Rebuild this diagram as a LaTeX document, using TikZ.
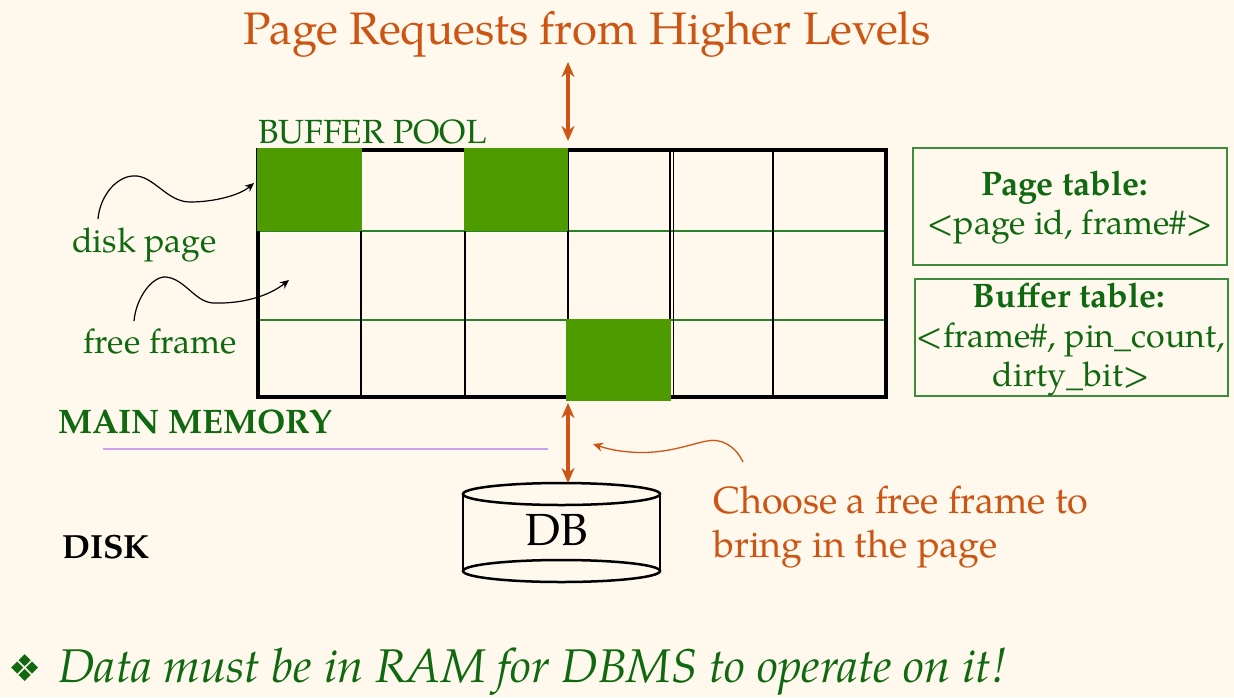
\documentclass[tikz,border=0pt]{standalone}
\usepackage{fontspec}
\setmainfont{TeX Gyre Pagella}
\newfontfamily\symfont{DejaVu Sans}
\usetikzlibrary{arrows.meta}
\definecolor{bg}{RGB}{254,248,237}
\definecolor{orng}{RGB}{204,85,20}
\definecolor{dgreen}{RGB}{16,105,16}
\definecolor{fillgreen}{RGB}{78,155,0}
\definecolor{linegreen}{RGB}{40,130,40}
\definecolor{boxgreen}{RGB}{60,140,60}
\definecolor{purp}{RGB}{205,160,240}
\tikzset{
  bigarrow/.style={draw=orng, line width=3.5pt, {Stealth[length=15pt,width=13pt]}-{Stealth[length=15pt,width=13pt]}},
  curvyblack/.style={draw=black, line width=1.2pt, -{Stealth[length=9pt,width=8pt]}},
  curvyorange/.style={draw=orng, line width=1.3pt, -{Stealth[length=10pt,width=9pt]}},
  greenlabel/.style={text=dgreen, font=\fontsize{34}{40}\selectfont, anchor=base west, inner sep=0},
  tablebox/.style={draw=boxgreen, line width=1.5pt, inner sep=0},
  tabletext/.style={text=dgreen, anchor=base, inner sep=0, font=\fontsize{34}{40}\selectfont},
  cell/.style={fill=fillgreen, draw=none},
}
\begin{document}
\begin{tikzpicture}[x=1pt,y=-1pt]
\fill[bg] (0,0) rectangle (1234,697);
\useasboundingbox (0,0) rectangle (1234,697);

% title
\node[text=orng, font=\fontsize{45.5}{54}\selectfont, anchor=base, inner sep=0] (title) at (587,44) {Page Requests from Higher Levels};
\coordinate (reqtop) at (568,62);
\coordinate (reqbot) at (568,141);
\draw[bigarrow] (reqtop) -- (reqbot);

% buffer pool label
\node[greenlabel, font=\fontsize{33.5}{40}\selectfont] (bplabel) at (258,143) {BUFFER POOL};

% grid
\node[minimum width=628, minimum height=247, inner sep=0] (pool) at (572,273.5) {};
\draw[linegreen, line width=1.5pt] (258,231) -- (886,231) (258,320) -- (886,320);
\draw[black, line width=2.5pt] (361,150) -- (361,397) (465,150) -- (465,397) (568,150) -- (568,397);
\draw[black, line width=1.3pt] (670,150) -- (670,397) (673.5,150) -- (673.5,397);
\draw[black, line width=2pt] (773,150) -- (773,397);
\draw[black, line width=4pt] (pool.north west) rectangle (pool.south east);
\fill[cell] (257,148) rectangle (362,231);
\fill[cell] (464,148) rectangle (568,231);
\fill[cell] (566,319) rectangle (671,401);

% left labels
\node[greenlabel] (diskpage) at (72,252) {disk page};
\node[greenlabel] (freeframe) at (83,353) {free frame};
\coordinate (dpS) at (98,219);
\coordinate (dpE) at (254,183);
\draw[curvyblack] (dpS) .. controls (100,195) and (118,174) .. (137,176)
  .. controls (155,178) and (168,202) .. (190,202)
  .. controls (215,202) and (240,195) .. (dpE);
\coordinate (ffS) at (134,321);
\coordinate (ffE) at (289,280);
\draw[curvyblack] (ffS) .. controls (136,298) and (152,276) .. (166,277)
  .. controls (185,279) and (195,302) .. (213,303)
  .. controls (245,304) and (270,295) .. (ffE);

% right tables
\node[tablebox, minimum width=314, minimum height=117] (pagetable) at (1070,206.5) {};
\node[tabletext, font=\fontsize{34}{40}\selectfont\bfseries] (pt1) at (1065,195) {Page table:};
\node[tabletext] (pt2) at (1070,234) {{<}page id, frame\#{>}};
\node[tablebox, minimum width=313, minimum height=117] (buftable) at (1071.5,337.5) {};
\node[tabletext, font=\fontsize{34}{40}\selectfont\bfseries] (bt1) at (1069,307) {Buffer table:};
\node[tabletext] (bt2) at (1071,347) {{<}frame\#, pin\_count,};
\node[tabletext] (bt3) at (1071,386) {dirty\_bit{>}};

% main memory / disk
\node[text=dgreen, font=\fontsize{34}{40}\selectfont\bfseries, anchor=base west, inner sep=0] (mainmem) at (58,433) {MAIN MEMORY};
\coordinate (sepL) at (103,449);
\coordinate (sepR) at (548,449);
\draw[purp, line width=1.3pt] (sepL) -- (sepR);
\node[text=black, font=\fontsize{33.5}{40}\selectfont\bfseries, anchor=base west, inner sep=0] (disk) at (62,558) {DISK};

% cylinder
\draw[black, line width=2.5pt] (463,494) -- (463,571) (660,494) -- (660,571);
\draw[black, line width=2.5pt, fill=bg] (561.5,494) ellipse [x radius=98.5, y radius=11];
\draw[black, line width=2.5pt] (561.5,571) ellipse [x radius=98.5, y radius=11];
\node[font=\fontsize{45}{54}\selectfont, inner sep=0, anchor=base] (db) at (557,545) {DB};

\coordinate (iotop) at (568,403);
\coordinate (iobot) at (568,483);
\draw[bigarrow] (iotop) -- (iobot);

% choose text
\node[text=orng, font=\fontsize{37.8}{44}\selectfont, anchor=base west, inner sep=0] (choose) at (713,513) {Choose a free frame to};
\node[text=orng, font=\fontsize{37.8}{44}\selectfont, anchor=base west, inner sep=0] (bring) at (713,557) {bring in the page};
\coordinate (chS) at (743,462);
\coordinate (chE) at (593,444);
\draw[curvyorange] (chS) .. controls (735,445) and (720,438) .. (707,441)
  .. controls (690,444) and (665,455) .. (630,452)
  .. controls (615,451) and (605,448) .. (chE);

% bottom line
\node[text=dgreen, font=\fontsize{37}{40}\symfont, anchor=base west, inner sep=0] (bullet) at (8,681) {❖};
\node[text=dgreen, font=\fontsize{47.3}{56}\selectfont\itshape, anchor=base west, inner sep=0] (slogan) at (58,682) {Data must be in RAM for DBMS to operate on it!};
\end{tikzpicture}
\end{document}
